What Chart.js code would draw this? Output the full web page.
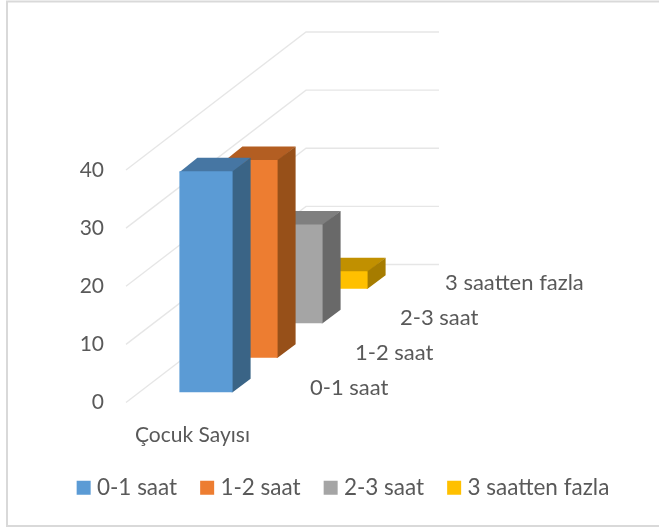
<!DOCTYPE html>
<html>
<head>
<meta charset="utf-8">
<style>html,body{margin:0;padding:0;background:#fff;overflow:hidden}canvas{display:block}</style>
<script src="https://cdn.jsdelivr.net/npm/chart.js@4"></script>
</head>
<body>
<canvas id="c" width="659" height="530"></canvas>
<script>
const categories = ['Çocuk Sayısı'];
const seriesNames = ['0-1 saat', '1-2 saat', '2-3 saat', '3 saatten fazla'];
const values01 = [38];
const values12 = [34];
const values23 = [17];
const values3p = [3];
const frontColors = ['#5B9BD5', '#ED7D31', '#A5A5A5', '#FFC000'];
const sideColors = ['#3A6486', '#975019', '#696969', '#A67C00'];
const topColors = ['#4676A3', '#B35E22', '#7F7F7F', '#C19000'];
const yTicks = [0, 10, 20, 30, 40];

const TEXT = '#595959', FONT = 'Lato', FS = 22;
const FLOOR = {x: 180, y: -138};   // full depth of the floor
const START = {x: 13.5, y: -10.3}; // first bar's depth
const STEP = {x: 45, y: -34.5};    // depth between series
const BAR = {x: 18, y: -13.5};     // depth of one bar

const depth3d = {
  id: 'depth3d',
  beforeDraw(chart) {
    const c = chart.ctx;
    c.save();
    c.fillStyle = '#fff';
    c.fillRect(0, 0, chart.width, chart.height);
    c.strokeStyle = '#d9d9d9';
    c.lineWidth = 2;
    c.strokeRect(7, 1.5, chart.width + 20, 524.5);
    c.restore();
  },
  beforeDatasetsDraw(chart) {
    const c = chart.ctx, a = chart.chartArea, y = chart.scales.y;
    c.save();
    c.strokeStyle = '#e6e6e6';
    c.lineWidth = 1.3;
    yTicks.forEach(v => {
      const p = y.getPixelForValue(v);
      c.beginPath();
      c.moveTo(a.left, p);
      c.lineTo(a.left + FLOOR.x, p + FLOOR.y);
      c.lineTo(a.right + FLOOR.x, p + FLOOR.y);
      c.stroke();
    });
    c.fillStyle = TEXT;
    c.font = FS + 'px ' + FONT;
    c.textBaseline = 'middle';
    c.textAlign = 'left';
    seriesNames.forEach((n, i) => {
      c.fillText(n, a.right + 51 + i * STEP.x, a.bottom - 15 - i * 35);
    });
    c.restore();
  },
  beforeDatasetDraw(chart, args) {
    const c = chart.ctx, i = args.index;
    c.save();
    c.translate(START.x + i * STEP.x, START.y + i * STEP.y);
    args.meta.data.forEach(el => {
      const p = el.getProps(['x', 'y', 'base', 'width'], true);
      const x0 = p.x - p.width / 2, x1 = p.x + p.width / 2;
      c.fillStyle = topColors[i];
      c.beginPath();
      c.moveTo(x0, p.y + 1);
      c.lineTo(x0 + BAR.x, p.y + BAR.y);
      c.lineTo(x1 + BAR.x, p.y + BAR.y);
      c.lineTo(x1, p.y + 1);
      c.closePath();
      c.fill();
      c.fillStyle = sideColors[i];
      c.beginPath();
      c.moveTo(x1 - 1, p.y);
      c.lineTo(x1, p.y);
      c.lineTo(x1 + BAR.x, p.y + BAR.y);
      c.lineTo(x1 + BAR.x, p.base + BAR.y);
      c.lineTo(x1, p.base);
      c.lineTo(x1 - 1, p.base);
      c.closePath();
      c.fill();
    });
  },
  afterDatasetDraw(chart) {
    chart.ctx.restore();
  }
};

const seriesValues = [values01, values12, values23, values3p];
new Chart(document.getElementById('c'), {
  type: 'bar',
  plugins: [depth3d],
  data: {
    labels: categories,
    datasets: seriesNames.map((n, i) => ({
      label: n,
      data: seriesValues[i],
      backgroundColor: frontColors[i],
      clip: false,
      grouped: false,
      barPercentage: 0.4,
      categoryPercentage: 1
    }))
  },
  options: {
    responsive: false,
    animation: false,
    font: {family: FONT, size: FS},
    layout: {padding: {left: 32, right: 0, top: 170, bottom: 21}},
    scales: {
      x: {
        grid: {display: false},
        border: {display: false},
        ticks: {color: TEXT, font: {family: FONT, size: FS - 1}, padding: 12, maxRotation: 0},
        afterFit(s) { s.height = 46; }
      },
      y: {
        min: 0,
        max: 40,
        grid: {display: false, drawTicks: false},
        border: {display: false},
        ticks: {color: TEXT, font: {family: FONT, size: 21}, padding: 22, stepSize: 10},
        afterFit(s) { s.width = 94; }
      },
      spacer: {
        type: 'linear',
        position: 'right',
        display: true,
        grid: {display: false, drawTicks: false},
        border: {display: false},
        ticks: {display: false},
        afterFit(s) { s.width = 400; }
      }
    },
    plugins: {
      tooltip: {enabled: false},
      legend: {
        position: 'bottom',
        labels: {
          color: TEXT,
          font: {family: FONT, size: 22.5},
          usePointStyle: true,
          pointStyle: 'rect',
          boxWidth: 4,
          boxHeight: 14,
          padding: 28
        }
      }
    }
  }
});
</script>
</body>
</html>
